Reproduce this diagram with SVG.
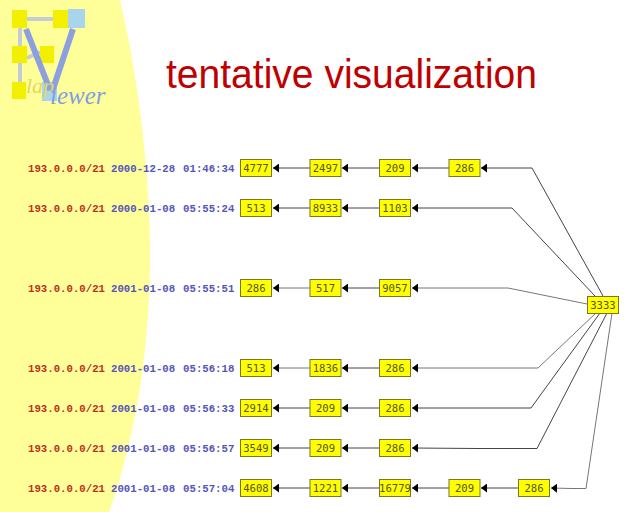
<svg xmlns="http://www.w3.org/2000/svg" width="640" height="512" viewBox="0 0 640 512">
<style>
.n{fill:#ffff00;stroke:#77772a;stroke-width:1}
.t{font:10.6px "DejaVu Sans Mono","Liberation Mono",monospace;text-anchor:middle;fill:#55550f}
.ip{font:bold 10.7px "Liberation Mono",monospace;fill:#c03020}
.dt{font:bold 10.7px "Liberation Mono",monospace;fill:#5555bb;word-spacing:1.5px}
.c{fill:none;stroke:#444;stroke-width:1}
.g{fill:none;stroke:#777;stroke-width:1}
</style>
<defs>
<marker id="a" markerUnits="userSpaceOnUse" markerWidth="7" markerHeight="9" refX="6" refY="4.5" orient="auto"><path d="M0 0L6 4.500L0 9Z" fill="#000"/></marker>
</defs>
<rect width="640" height="512" fill="#fff"/>
<path d="M0 0H120C140 85 150 180 150 255C150 340 138 430 109 512H0Z" fill="#ffff99"/>
<g id="logo">
<g fill="none" stroke="#c4ccd8" stroke-width="4"><path d="M27 19H54M20 28V46M20 63V82M27 58L40 52"/></g>
<rect x="12" y="10" width="15" height="18" fill="#f2f000"/><rect x="53" y="10" width="15" height="18" fill="#f2f000"/>
<rect x="68" y="9" width="17" height="19" fill="#a8d4ee"/>
<rect x="12" y="46" width="15" height="17" fill="#f2f000"/><rect x="40" y="46" width="14" height="17" fill="#f2f000"/><rect x="12" y="82" width="14" height="17" fill="#f2f000"/>
<rect x="42" y="82" width="15" height="19" fill="#a8d4ee"/>
<path d="M26 29L50 90M73 29L52 92" fill="none" stroke="#8c9fe0" stroke-width="6"/>
<text x="26" y="93" font-family="Liberation Serif,serif" font-style="italic" font-size="22" fill="#e0d860">lap</text>
<text x="50" y="104" font-family="Liberation Serif,serif" font-style="italic" font-size="25" fill="#7f9fe0">iewer</text>
</g>
<text x="166" y="88" font-family="Liberation Sans,sans-serif" font-size="41" fill="#c00000" textLength="371" lengthAdjust="spacingAndGlyphs">tentative visualization</text>
<g id="connectors">
<path class="c" marker-end="url(#a)" d="M310 168H273"/><path class="c" marker-end="url(#a)" d="M380 168H342"/><path class="c" marker-end="url(#a)" d="M449 168H412"/><path class="c" marker-end="url(#a)" d="M603 296L532 168H481"/>
<path class="c" marker-end="url(#a)" d="M310 208H273"/><path class="c" marker-end="url(#a)" d="M380 208H342"/><path class="c" marker-end="url(#a)" d="M595 296L512 208H412"/>
<path class="g" marker-end="url(#a)" d="M310 288H273"/><path class="c" marker-end="url(#a)" d="M380 288H342"/><path class="g" marker-end="url(#a)" d="M587 304L508 288H412"/>
<path class="g" marker-end="url(#a)" d="M310 368H273"/><path class="c" marker-end="url(#a)" d="M380 368H342"/><path class="g" marker-end="url(#a)" d="M596 313L538 368H412"/>
<path class="c" marker-end="url(#a)" d="M310 408H273"/><path class="c" marker-end="url(#a)" d="M380 408H342"/><path class="c" marker-end="url(#a)" d="M600 313L531 408H412"/>
<path class="c" marker-end="url(#a)" d="M310 448H273"/><path class="c" marker-end="url(#a)" d="M380 448H342"/><path class="c" marker-end="url(#a)" d="M607 313L537 448.500H478L412 448"/>
<path class="c" marker-end="url(#a)" d="M310 488H273"/><path class="c" marker-end="url(#a)" d="M380 488H342"/><path class="c" marker-end="url(#a)" d="M449 488H412"/><path class="c" marker-end="url(#a)" d="M519 488H481"/><path class="g" marker-end="url(#a)" d="M612 313L586 488.500H572L551 488"/>
</g>
<g id="labels">
<text class="ip" x="28" y="171.500">193.0.0.0/21</text><text class="dt" x="111" y="171.500">2000-12-28 01:46:34</text>
<text class="ip" x="28" y="211.500">193.0.0.0/21</text><text class="dt" x="111" y="211.500">2000-01-08 05:55:24</text>
<text class="ip" x="28" y="291.500">193.0.0.0/21</text><text class="dt" x="111" y="291.500">2001-01-08 05:55:51</text>
<text class="ip" x="28" y="371.500">193.0.0.0/21</text><text class="dt" x="111" y="371.500">2001-01-08 05:56:18</text>
<text class="ip" x="28" y="411.500">193.0.0.0/21</text><text class="dt" x="111" y="411.500">2001-01-08 05:56:33</text>
<text class="ip" x="28" y="451.500">193.0.0.0/21</text><text class="dt" x="111" y="451.500">2001-01-08 05:56:57</text>
<text class="ip" x="28" y="491.500">193.0.0.0/21</text><text class="dt" x="111" y="491.500">2001-01-08 05:57:04</text>
</g>
<g id="r1n1"><rect class="n" x="240.500" y="159.500" width="31" height="17"/><text class="t" x="256" y="172">4777</text></g>
<g id="r1n2"><rect class="n" x="310" y="159.500" width="31" height="17"/><text class="t" x="325.500" y="172">2497</text></g>
<g id="r1n3"><rect class="n" x="379.500" y="159.500" width="31" height="17"/><text class="t" x="395" y="172">209</text></g>
<g id="r1n4"><rect class="n" x="449" y="159.500" width="31" height="17"/><text class="t" x="464.500" y="172">286</text></g>
<g id="r2n1"><rect class="n" x="240.500" y="199.500" width="31" height="17"/><text class="t" x="256" y="212">513</text></g>
<g id="r2n2"><rect class="n" x="310" y="199.500" width="31" height="17"/><text class="t" x="325.500" y="212">8933</text></g>
<g id="r2n3"><rect class="n" x="379.500" y="199.500" width="31" height="17"/><text class="t" x="395" y="212">1103</text></g>
<g id="r3n1"><rect class="n" x="240.500" y="279.500" width="31" height="17"/><text class="t" x="256" y="292">286</text></g>
<g id="r3n2"><rect class="n" x="310" y="279.500" width="31" height="17"/><text class="t" x="325.500" y="292">517</text></g>
<g id="r3n3"><rect class="n" x="379.500" y="279.500" width="31" height="17"/><text class="t" x="395" y="292">9057</text></g>
<g id="r4n1"><rect class="n" x="240.500" y="359.500" width="31" height="17"/><text class="t" x="256" y="372">513</text></g>
<g id="r4n2"><rect class="n" x="310" y="359.500" width="31" height="17"/><text class="t" x="325.500" y="372">1836</text></g>
<g id="r4n3"><rect class="n" x="379.500" y="359.500" width="31" height="17"/><text class="t" x="395" y="372">286</text></g>
<g id="r5n1"><rect class="n" x="240.500" y="399.500" width="31" height="17"/><text class="t" x="256" y="412">2914</text></g>
<g id="r5n2"><rect class="n" x="310" y="399.500" width="31" height="17"/><text class="t" x="325.500" y="412">209</text></g>
<g id="r5n3"><rect class="n" x="379.500" y="399.500" width="31" height="17"/><text class="t" x="395" y="412">286</text></g>
<g id="r6n1"><rect class="n" x="240.500" y="439.500" width="31" height="17"/><text class="t" x="256" y="452">3549</text></g>
<g id="r6n2"><rect class="n" x="310" y="439.500" width="31" height="17"/><text class="t" x="325.500" y="452">209</text></g>
<g id="r6n3"><rect class="n" x="379.500" y="439.500" width="31" height="17"/><text class="t" x="395" y="452">286</text></g>
<g id="r7n1"><rect class="n" x="240.500" y="479.500" width="31" height="17"/><text class="t" x="256" y="492">4608</text></g>
<g id="r7n2"><rect class="n" x="310" y="479.500" width="31" height="17"/><text class="t" x="325.500" y="492">1221</text></g>
<g id="r7n3"><rect class="n" x="379.500" y="479.500" width="31" height="17"/><text class="t" x="395" y="492">16779</text></g>
<g id="r7n4"><rect class="n" x="449" y="479.500" width="31" height="17"/><text class="t" x="464.500" y="492">209</text></g>
<g id="r7n5"><rect class="n" x="518.500" y="479.500" width="31" height="17"/><text class="t" x="534" y="492">286</text></g>
<g id="hub"><rect class="n" x="587.500" y="296.500" width="31" height="17"/><text class="t" x="603" y="309">3333</text></g>
</svg>
